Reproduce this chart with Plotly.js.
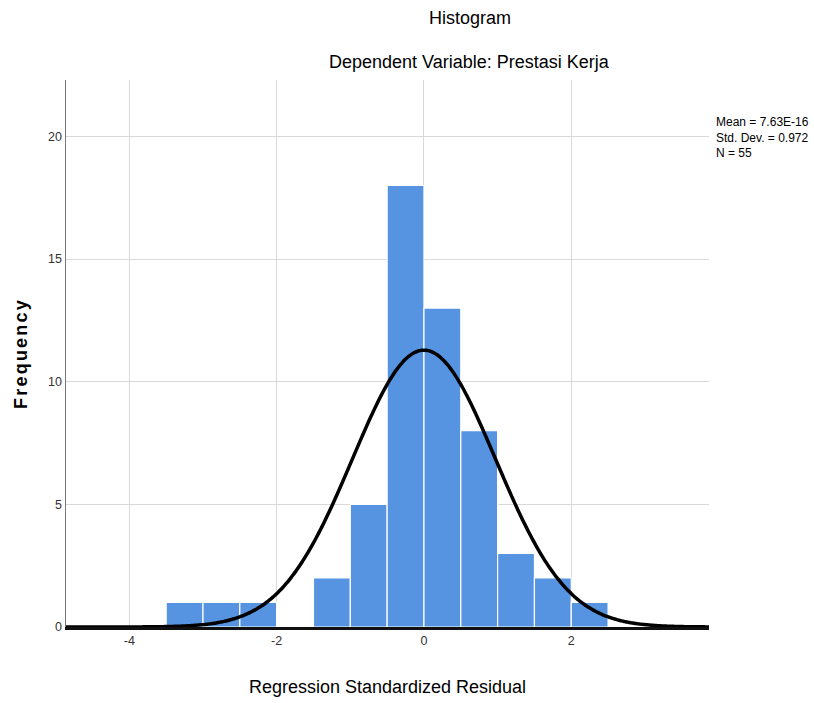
<!DOCTYPE html>
<html>
<head>
<meta charset="utf-8">
<script src="https://cdn.plot.ly/plotly-3.0.1.min.js"></script>
<style>html,body{margin:0;padding:0;background:#fff;}#chart{width:814px;height:703px;}
.ytitle{letter-spacing:2.2px;}
</style>
</head>
<body>
<div id="chart"></div>
<script>
// Histogram bins (left edges, width 0.5) and counts
var binStarts = [-3.5, -3.0, -2.5, -2.0, -1.5, -1.0, -0.5, 0.0, 0.5, 1.0, 1.5, 2.0];
var counts    = [1, 1, 1, 0, 2, 5, 18, 13, 8, 3, 2, 1];
var binWidth = 0.5;
// Statistics shown in the legend
var statMean = 7.63e-16;
var statSD = 0.972;
var statN = 55;
var xTicks = [-4, -2, 0, 2];
var yTicks = [0, 5, 10, 15, 20];

var centers = binStarts.map(function(s){ return s + binWidth/2; });

// Fitted normal curve from the displayed mean / sd / N
var cx = [], cy = [];
var xmin = -4.86, xmax = 3.87;
for (var i = 0; i <= 300; i++) {
  var x = xmin + (xmax - xmin) * i / 300;
  var z = (x - statMean) / statSD;
  cx.push(x);
  cy.push(statN * binWidth * Math.exp(-0.5 * z * z) / (statSD * Math.sqrt(2 * Math.PI)));
}

var traces = [
  {
    type: 'bar', x: centers, y: counts, width: binWidth,
    marker: {color: 'rgb(86,148,226)', line: {color: '#ffffff', width: 1.2}},
    hoverinfo: 'x+y'
  },
  {
    type: 'scatter', mode: 'lines', x: cx, y: cy,
    line: {color: '#000000', width: 3.5, shape: 'spline'},
    hoverinfo: 'skip'
  }
];

var layout = {
  width: 814, height: 703,
  margin: {l: 66, r: 105, t: 80, b: 76},
  paper_bgcolor: '#ffffff', plot_bgcolor: '#ffffff',
  showlegend: false,
  font: {family: 'Liberation Sans, Arial, sans-serif', color: '#000'},
  bargap: 0,
  xaxis: {
    range: [xmin, xmax], tickvals: xTicks, ticktext: xTicks.map(String),
    showgrid: true, gridcolor: '#d9d9d9', gridwidth: 1,
    zeroline: false, showline: true, linecolor: '#111', linewidth: 3,
    ticks: '', tickfont: {size: 12.5, color: '#333'}, ticklen: 0,
    title: {text: 'Regression Standardized Residual', font: {size: 18, color: '#000'}, standoff: 34}
  },
  yaxis: {
    range: [0, 22.3], tickvals: yTicks, ticktext: yTicks.map(String),
    showgrid: true, gridcolor: '#d9d9d9', gridwidth: 1,
    zeroline: false, showline: true, linecolor: '#777', linewidth: 1.5,
    ticks: '', tickfont: {size: 12.5, color: '#333'},
    title: {text: '<b>Frequency</b>', font: {size: 18, color: '#000'}, standoff: 16}
  },
  annotations: [
    {xref: 'paper', yref: 'paper', x: 0.628, y: 1, yshift: 62, text: 'Histogram',
     showarrow: false, font: {size: 18, color: '#000'}, xanchor: 'center', yanchor: 'middle'},
    {xref: 'paper', yref: 'paper', x: 0.628, y: 1, yshift: 18, text: 'Dependent Variable: Prestasi Kerja',
     showarrow: false, font: {size: 18, color: '#000'}, xanchor: 'center', yanchor: 'middle'},
    {xref: 'paper', yref: 'paper', x: 1, xshift: 5, y: 1, yshift: -33, align: 'left',
     text: 'Mean = 7.63E-16<br>Std. Dev. = 0.972<br>N = 55',
     showarrow: false, font: {size: 12, color: '#000'}, xanchor: 'left', yanchor: 'top'}
  ]
};

Plotly.newPlot('chart', traces, layout, {displayModeBar: false, staticPlot: true});
</script>
</body>
</html>
